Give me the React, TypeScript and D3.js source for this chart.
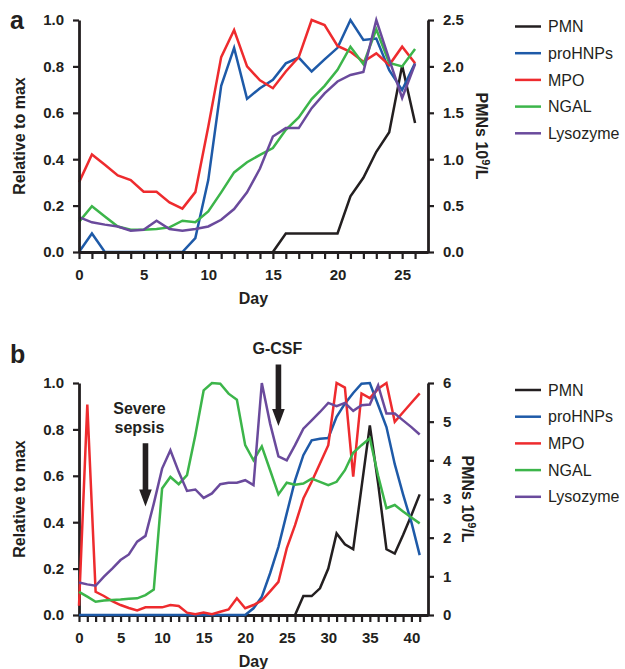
import React, { useEffect, useRef } from "react";
import * as d3 from "d3";

// series names and colours (legend order)
const seriesNames = ["PMN", "proHNPs", "MPO", "NGAL", "Lysozyme"];
const seriesColors = ["#231f20", "#1e5aa8", "#ee2b2e", "#3cb54a", "#6a4a9c"];

// panel a, one value per day (day = index), relative to max
const pmnA = [null, null, null, null, null, null, null, null, null, null, null, null, null, null, null,
    0, 0.2, 0.2, 0.2, 0.2, 0.2, 0.6, 0.8, 1.08, 1.29, 2.01, 1.39];
const proHnpA = [0, 0.08, 0, 0, 0, 0, 0, 0, 0, 0.06, 0.31, 0.716, 0.88, 0.66, 0.706, 0.742, 0.813,
    0.838, 0.778, 0.83, 0.88, 1.0, 0.914, 0.92, 0.784, 0.698, 0.814];
const mpoA = [0.3, 0.42, 0.376, 0.33, 0.31, 0.26, 0.26, 0.214, 0.187, 0.258, 0.54, 0.84, 0.957, 0.8,
    0.74, 0.706, 0.778, 0.84, 1.0, 0.978, 0.888, 0.863, 0.82, 0.856, 0.806, 0.885, 0.814];
const ngalA = [0.13, 0.197, 0.153, 0.11, 0.096, 0.096, 0.099, 0.106, 0.135, 0.128, 0.175, 0.257,
    0.343, 0.387, 0.419, 0.448, 0.527, 0.58, 0.659, 0.716, 0.785, 0.885, 0.81, 0.96, 0.815, 0.8, 0.875];
const lysA = [0.15, 0.128, 0.118, 0.11, 0.092, 0.096, 0.135, 0.099, 0.092, 0.099, 0.11, 0.139, 0.185,
    0.257, 0.36, 0.498, 0.534, 0.534, 0.62, 0.684, 0.735, 0.763, 0.776, 1.0, 0.83, 0.664, 0.81];

// panel b
const pmnB = [null, null, null, null, null, null, null, null, null, null, null, null, null, null,
    null, null, null, null, null, null, null, null, null, null, null, null,
    0, 0.49, 0.49, 0.69, 1.2, 2.11, 1.83, 1.7, 3.3, 4.9, 3.4, 1.7, 1.59, 2.07, 2.58, 3.12];
const proHnpB = [0, 0, 0, 0, 0, 0, 0, 0, 0, 0, 0, 0, 0, 0, 0, 0, 0, 0, 0, 0, 0,
    0.029, 0.079, 0.18, 0.294, 0.438, 0.58, 0.689, 0.753, 0.76, 0.763, 0.854, 0.911, 0.957, 0.997,
    1.0, 0.905, 0.81, 0.65, 0.52, 0.4, 0.258];
const mpoB = [0.04, 0.907, 0.1, 0.082, 0.06, 0.043, 0.03, 0.02, 0.033, 0.033, 0.033, 0.043, 0.039,
    0.01, 0.003, 0.011, 0.003, 0.014, 0.024, 0.072, 0.029, 0.043, 0.062, 0.102, 0.143, 0.287, 0.387,
    0.502, 0.574, 0.653, 0.732, 1.0, 0.98, 0.596, 0.955, 0.935, 0.975, 1.0, 0.833, 0.874, 0.915, 0.955];
const ngalB = [0.1, 0.079, 0.057, 0.062, 0.065, 0.067, 0.07, 0.072, 0.086, 0.11, 0.545, 0.595, 0.564,
    0.603, 0.775, 0.968, 1.0, 0.997, 0.954, 0.928, 0.732, 0.667, 0.727, 0.624, 0.52, 0.57, 0.562,
    0.567, 0.588, 0.574, 0.56, 0.574, 0.624, 0.699, 0.732, 0.762, 0.6, 0.46, 0.474, 0.446, 0.42, 0.395];
const lysB = [0.14, 0.132, 0.126, 0.165, 0.2, 0.237, 0.261, 0.316, 0.341, 0.48, 0.631, 0.71, 0.617,
    0.535, 0.541, 0.505, 0.524, 0.564, 0.57, 0.57, 0.581, 0.56, 1.0, 0.825, 0.684, 0.667, 0.732,
    0.803, 0.839, 0.875, 0.914, 0.9, 0.914, 0.88, 0.904, 0.907, 0.99, 0.868, 0.868, 0.839, 0.81, 0.778];

// tick labels
const leftTicks = [0, 0.2, 0.4, 0.6, 0.8, 1.0];
const pmnTicksA = [0, 0.5, 1.0, 1.5, 2.0, 2.5];
const pmnTicksB = [0, 1, 2, 3, 4, 5, 6];

// annotations in panel b
const annotations = [
    { label: ["Severe", "sepsis"], day: 8, top: 0.74, tip: 0.468 },
    { label: ["G-CSF"], day: 24, top: 1.08, tip: 0.815 },
];

const FONT = "'Liberation Sans', Arial, Helvetica, sans-serif";
const INK = "#231f20";

function drawPanel(svg, p) {
    const left = 79;
    const right = 428;

    //scales
    const x = d3.scaleLinear().domain([0, p.maxDay]).range([left, right]);
    const y = d3.scaleLinear().domain([0, 1]).range([p.bottom, p.top]);
    const yR = d3.scaleLinear().domain([0, p.pmnMax]).range([p.bottom, p.top]);

    const g = svg.append("g");

    const styleAxis = (sel, fmt) => {
        sel.select(".domain").attr("stroke", INK).attr("stroke-width", 2.8);
        sel.selectAll(".tick line").attr("stroke", INK).attr("stroke-width", 2.2);
        sel.selectAll(".tick text")
            .attr("fill", INK)
            .attr("font-family", FONT)
            .attr("font-weight", "bold")
            .attr("font-size", 15);
    };

    const drawAxes = () => {
        //bottom axis, a tick per day
        const xa = g.append("g")
            .attr("transform", `translate(0,${p.bottom})`)
            .call(d3.axisBottom(x)
                .tickValues(d3.range(0, p.maxDay))
                .tickSize(7).tickSizeOuter(0).tickPadding(10)
                .tickFormat((d) => (d % 5 === 0 ? String(d) : "")));
        styleAxis(xa);

        //left axis
        const ya = g.append("g")
            .attr("transform", `translate(${left},0)`)
            .call(d3.axisLeft(y).tickValues(leftTicks)
                .tickSize(6).tickSizeOuter(0).tickPadding(9)
                .tickFormat(d3.format(".1f")));
        styleAxis(ya);

        //right axis for PMN counts
        const ra = g.append("g")
            .attr("transform", `translate(${right},0)`)
            .call(d3.axisRight(yR).tickValues(p.pmnTicks)
                .tickSize(6).tickSizeOuter(0).tickPadding(9)
                .tickFormat(p.pmnFormat));
        styleAxis(ra);
    };

    const drawLines = () => {
        const series = [p.pmn, p.pro, p.mpo, p.ngal, p.lys];
        series.forEach((vals, i) => {
            const ys = i === 0 ? yR : y;
            const line = d3.line()
                .defined((d) => d != null)
                .x((d, j) => x(j))
                .y((d) => ys(d));
            g.append("path")
                .datum(vals)
                .attr("fill", "none")
                .attr("stroke", seriesColors[i])
                .attr("stroke-width", 2.5)
                .attr("stroke-linejoin", "miter")
                .attr("d", line);
        });
    };

    //panel a has axes over the lines, panel b the other way round
    if (p.axesOnTop) {
        drawLines();
        drawAxes();
    } else {
        drawAxes();
        drawLines();
    }

    //panel letter
    g.append("text")
        .attr("x", 10).attr("y", p.letterY)
        .attr("font-family", FONT).attr("font-weight", "bold").attr("font-size", 25)
        .attr("fill", INK)
        .text(p.letter);

    //axis titles
    const mid = (p.top + p.bottom) / 2;
    g.append("text")
        .attr("transform", `translate(25,${mid}) rotate(-90)`)
        .attr("text-anchor", "middle")
        .attr("font-family", FONT).attr("font-weight", "bold").attr("font-size", 16)
        .attr("fill", INK)
        .text("Relative to max");

    g.append("text")
        .attr("x", (left + right) / 2)
        .attr("y", p.bottom + 52)
        .attr("text-anchor", "middle")
        .attr("font-family", FONT).attr("font-weight", "bold").attr("font-size", 16)
        .attr("fill", INK)
        .text("Day");

    const rt = g.append("text")
        .attr("transform", `translate(${p.rightTitleX},${mid}) rotate(90)`)
        .attr("text-anchor", "middle")
        .attr("font-family", FONT).attr("font-weight", "bold").attr("font-size", 16)
        .attr("fill", INK);
    rt.append("tspan").text("PMNs 10");
    rt.append("tspan").attr("dy", -6).attr("font-size", 11).text("9");
    rt.append("tspan").attr("dy", 6).text("/L");

    //legend
    seriesNames.forEach((name, i) => {
        const ly = p.legendY + i * 26.7;
        g.append("line")
            .attr("x1", 515).attr("x2", 541)
            .attr("y1", ly).attr("y2", ly)
            .attr("stroke", seriesColors[i]).attr("stroke-width", 2.5);
        g.append("text")
            .attr("x", 548).attr("y", ly).attr("dy", "0.35em")
            .attr("font-family", FONT).attr("font-size", 16)
            .attr("fill", INK)
            .text(name);
    });

    //arrows with labels
    (p.annotations || []).forEach((a) => {
        const cx = x(a.day);
        const yTop = y(a.top);
        const yTip = y(a.tip);
        const headStart = yTip - 17;
        g.append("path")
            .attr("d", `M${cx - 2.8},${yTop} L${cx + 2.8},${yTop} L${cx + 2.8},${headStart} ` +
                `L${cx + 6.3},${headStart} L${cx},${yTip} L${cx - 6.3},${headStart} L${cx - 2.8},${headStart} Z`)
            .attr("fill", INK);
        a.label.forEach((t, k) => {
            g.append("text")
                .attr("x", cx - (a.label.length > 1 ? 6 : 1))
                .attr("y", yTop - 10 - (a.label.length - 1 - k) * 19)
                .attr("text-anchor", "middle")
                .attr("font-family", FONT).attr("font-weight", "bold").attr("font-size", 16)
                .attr("fill", INK)
                .text(t);
        });
    });
}

export default function App() {
    const svgRef = useRef(null);

    useEffect(() => {
        //remove old drawing
        const svg = d3.select(svgRef.current);
        svg.selectAll("*").remove();

        drawPanel(svg, {
            letter: "a", letterY: 29, top: 20, bottom: 252, maxDay: 27,
            pmnMax: 2.5, pmnTicks: pmnTicksA, pmnFormat: d3.format(".1f"),
            pmn: pmnA, pro: proHnpA, mpo: mpoA, ngal: ngalA, lys: lysA,
            legendY: 26.5, rightTitleX: 476, axesOnTop: true,
        });

        drawPanel(svg, {
            letter: "b", letterY: 363, top: 383, bottom: 615, maxDay: 42,
            pmnMax: 6, pmnTicks: pmnTicksB, pmnFormat: d3.format("d"),
            pmn: pmnB, pro: proHnpB, mpo: mpoB, ngal: ngalB, lys: lysB,
            legendY: 390, rightTitleX: 462, axesOnTop: false,
            annotations: annotations,
        });
    }, []);

    return (
        <svg ref={svgRef} width={625} height={669}
            style={{ position: "absolute", left: 0, top: 0, background: "#fff" }}></svg>
    );
}
